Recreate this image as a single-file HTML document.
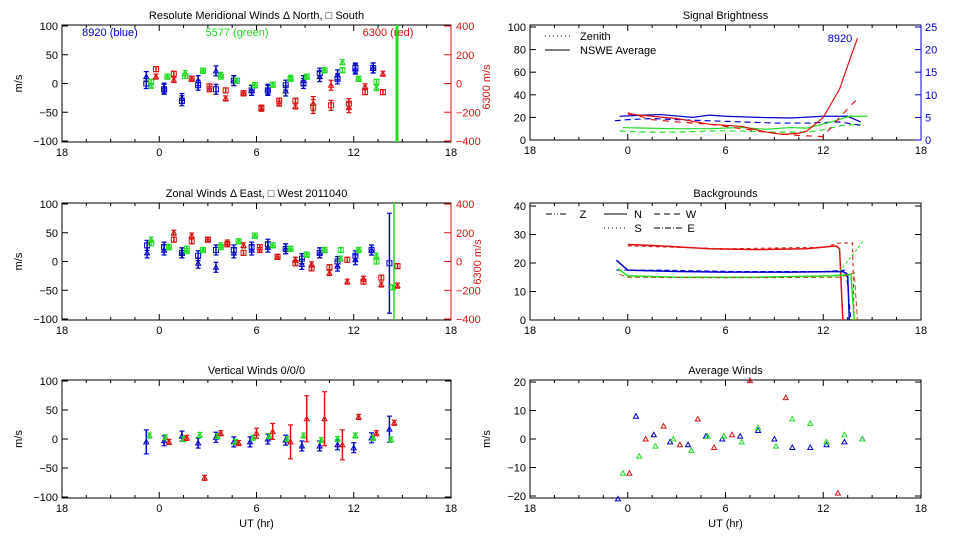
<!DOCTYPE html>
<html><head><meta charset="utf-8"><style>
html,body{margin:0;padding:0;background:#fff;width:960px;height:540px;overflow:hidden}
svg{display:block}
text{font-family:"Liberation Sans",sans-serif;font-size:11px}
</style></head><body>
<svg id="s" width="960" height="540" xmlns="http://www.w3.org/2000/svg"></svg>
<script>
const S=document.getElementById('s');let h='';
const B='#0000cc',G='#22dd22',R='#dd1111',K='#000';
function T(x,y,t,o){o=o||{};h+=`<text x="${x}" y="${y}" fill="${o.c||K}" text-anchor="${o.a||'middle'}" font-size="${o.s||11}"${o.r?` transform="rotate(-90 ${x} ${y})"`:''}>${t}</text>`;}
function L(x1,y1,x2,y2,c,w,d){h+=`<line x1="${x1}" y1="${y1}" x2="${x2}" y2="${y2}" stroke="${c||K}" stroke-width="${w||1}"${d?` stroke-dasharray="${d}"`:''}/>`;}
function P(pts,c,d,w){h+=`<polyline fill="none" stroke="${c}" stroke-width="${w||1}"${d?` stroke-dasharray="${d}"`:''} points="${pts.map(p=>p.join(',')).join(' ')}"/>`;}
function panel(x0,x1,y0,y1,ylab,xl,title,ul){
 h+=`<rect x="${x0}" y="${y0}" width="${x1-x0}" height="${y1-y0}" fill="none" stroke="#000"/>`;
 const X=v=>x0+(v+6)*(x1-x0)/24;
 [-6,0,6,12,18].forEach((v,i)=>{const x=X(v);L(x,y1,x,y1-6);L(x,y0,x,y0+6);T(x,y1+14,['18','0','6','12','18'][i]);});
 for(let v=-6;v<18;v+=1.5){if(v%6){const x=X(v);L(x,y1,x,y1-3);L(x,y0,x,y0+3);}}
 ylab.forEach(([val,yy])=>{L(x0,yy,x0+6,yy);if(!ul)L(x1,yy,x1-6,yy);T(x0-4,yy+4,val,{a:'end'});});
 T((x0+x1)/2,y0-6,title,{s:12.5});
 if(xl)T((x0+x1)/2,y1+29,'UT (hr)',{s:12});
 return X;
}
function tri(x,y,c,f){h+=`<polygon points="${x-2.5},${y+2} ${x+2.5},${y+2} ${x},${y-2.5}" fill="${f?c:'none'}" stroke="${c}" stroke-width="1"/>`;}
function sq(x,y,c){h+=`<rect x="${x-2.5}" y="${y-2.5}" width="5" height="5" fill="none" stroke="${c}" stroke-width="1"/>`;}
function eb(x,y,e,c,w){L(x,y-e,x,y+e,c,w||1.5);L(x-2.5,y-e,x+2.5,y-e,c,1.2);L(x-2.5,y+e,x+2.5,y+e,c,1.2);}
function leftPanel(y0,y1,title,xl,right){
 const ym=v=>y0+(100-v)*(y1-y0-2)/200+1;
 const X=panel(62,451,y0,y1,[[100,ym(100)],[50,ym(50)],[0,ym(0)],['−50',ym(-50)],['−100',ym(-100)]].map(a=>[a[0],a[1]]),xl,title,right);
 T(22,(y0+y1)/2,'m/s',{r:1,s:11});
 if(right){L(451,y0,451,y1,R);[[400,100],[200,50],[0,0],['−200',-50],['−400',-100]].forEach(([l,v])=>{L(451,ym(v),444,ym(v),R);T(456,ym(v)+4,l,{a:'start',c:R,s:right});});}
 return [X,ym];
}
function plotSeries(X,ym,data,c,big){data.forEach(d=>{const x=X(d[0]);for(let i=1;i<d.length;i++){const v=d[i];if(v==null)continue;const y=ym(v);const e=big&&big[d[0]]?big[d[0]]:(c==B?5:2.5);eb(x,y,e,c,1.5);if(i==1)tri(x,y,c);else sq(x,y,c);}});}
let [X,ym]=leftPanel(25,142,'Resolute Meridional Winds Δ North, □ South',0,11);
T(110,36,'8920 (blue)',{c:B,s:12});T(237,36,'5577 (green)',{c:G,s:12});T(388,36,'6300 (red)',{c:R,s:12});
plotSeries(X,ym,[[-0.8,12,0],[0.3,-8,-10],[1.4,-26,-30],[2.4,5,-3],[3.5,22,-10],[4.6,5,5],[5.7,-12,-12],[6.7,-10,-12],[7.8,-13,-3],[8.9,5,0],[9.9,12,18],[11,15,8],[12.1,25,27],[13.2,27,27]],B);
plotSeries(X,ym,[[-0.5,-4,3],[0.5,12,12],[1.6,18,13],[2.7,22,22],[3.8,15,12],[4.8,5,5],[5.9,-3,-3],[7,-2,-2],[8.1,10,8],[9.1,12,12],[10.2,23,23],[11.3,37,23],[12.3,8,8],[13.4,-8,3]],G);
plotSeries(X,ym,[[-0.2,12,25],[0.9,6,17],[2,8,8],[3.1,-10,-5],[4.1,-26,-12],[5.2,-17,-17],[6.3,-44,-42],[7.4,-35,-30],[8.4,-40,-30],[9.5,-35,-40],[10.6,-3,-38],[11.7,-42,-35],[12.7,-5,-15],[13.8,17,-15]],R,{9.5:7,10.6:5,11.7:5});
L(397,25,397,142,G,3);
T(490,87,'6300 m/s',{r:1,c:R,s:11});
[X,ym]=leftPanel(203,320,'Zonal Winds Δ East, □ West 2011040',0,9);
T(481,262,'6300 m/s',{r:1,c:R,s:9});
plotSeries(X,ym,[[-0.75,15,28],[0.3,20,25],[1.4,15,15],[2.4,-3,10],[3.5,-10,20],[4.6,15,20],[5.7,20,25],[6.7,25,30],[7.8,22,22],[8.8,-5,5],[9.9,15,15],[11,-8,0],[12.1,3,10],[13.1,20,20]],B);
eb(X(14.2),ym(-3),50,B);sq(X(14.2),ym(-3),B);
plotSeries(X,ym,[[-0.5,38,32],[0.6,25,25],[1.7,18,22],[2.7,20,20],[3.8,28,25],[4.9,35,35],[5.9,45,45],[7,28,28],[8.1,22,22],[9.1,12,12],[10.2,20,20],[11.2,5,20],[12.3,20,20],[13.4,10,0],[14.4,null,-45]],G);
plotSeries(X,ym,[[0.9,50,38],[2,45,35],[3,38,38],[4.2,33,30],[5.2,28,15],[6.2,20,25],[7.3,8,8],[8.4,3,-3],[9.4,-5,-12],[10.5,-20,-10],[11.6,-35,3],[12.6,-30,-35],[13.7,-40,-28],[14.7,-42,-8]],R);
L(394,203,394,320,G,1.5);
[X,ym]=leftPanel(380,498,'Vertical Winds 0/0/0',1,0);
plotSeries(X,ym,[[-0.8,-5],[0.3,-3],[1.4,5],[2.4,-7],[3.5,3],[4.6,-5],[5.6,-5],[6.7,0],[7.8,-2],[8.8,-12],[9.9,-12],[11,-10],[12,-15],[13.1,2],[14.2,17]],B,{'-0.8':12,14.2:13});
plotSeries(X,ym,[[-0.6,6],[0.4,3],[1.5,0],[2.5,7],[3.6,5],[4.7,-5],[5.8,2],[6.8,5],[7.9,0],[8.9,6],[10,-2],[11,0],[12.1,6],[13.2,2],[14.3,-1]],G);
plotSeries(X,ym,[[0.6,-5],[1.7,2],[2.8,-67],[3.8,10],[4.9,-7],[6,10],[7,13],[8.1,-5],[9.1,35],[10.2,35],[11.3,-10],[12.3,38],[13.4,10],[14.5,28]],R,{6:5,7:8,8.1:17,9.1:23,10.2:27,11.3:15});
let xr0=530,xr1=921;
let by=v=>140-v*1.13;
let XR=panel(xr0,xr1,25,140,[[100,by(100)],[80,by(80)],[60,by(60)],[40,by(40)],[20,by(20)],[0,by(0)]],0,'Signal Brightness',1);
L(xr1,25,xr1,140,B);[[25,100],[20,80],[15,60],[10,40],[5,20],[0,0]].forEach(([l,v])=>{L(xr1,by(v),xr1-6,by(v),B);T(925,by(v)+4,l,{a:'start',c:B});});
L(545,36,570,36,K,1,'1,3');T(580,40,'Zenith',{a:'start',s:10});L(545,50,570,50);T(580,54,'NSWE Average',{a:'start',s:10});
T(840,42,'8920',{c:B,s:16});
const pr=(arr,yf)=>arr.map(([a,b])=>[XR(a),yf(b)]);
P(pr([[-0.5,21],[1,22],[2,22.5],[4,20],[5,22],[6,21],[8,20],[10,19.5],[12,21],[13.5,21],[14.3,16]],by),B,0,1.2);
P(pr([[-0.8,17],[0,18],[1.5,19],[3,18],[5,17],[7,16],[9,15],[11,15],[13,16],[14.3,13]],by),B,'6,4',1.2);
P(pr([[-0.3,11],[1,10.5],[3,10],[5,10],[7,11],[8.5,9.5],[10,11],[11,10.5],[12.5,16],[13.6,21],[14.7,21]],by),G,0,1.2);
P(pr([[-0.5,8],[1,7],[3,7],[5,8],[7,8],[9,7],[11,7],[12,9],[13.2,13],[14.3,14]],by),G,'6,4',1.2);
P(pr([[0,23],[1.5,21],[3,19],[5,14],[7,12],[8.5,7],[9.5,5],[10.5,6],[11,8],[12,20],[13,45],[13.6,70],[14.1,90]],by),R,0,1.2);
P(pr([[0,24],[1.5,18],[3,16],[5,14],[7,10],[9,6],[10.5,4],[12,3],[13,20],[14,35]],by),R,'6,6',1.2);
let gy=v=>320-v*2.85;
XR=panel(xr0,xr1,203,320,[[40,gy(40)],[30,gy(30)],[20,gy(20)],[10,gy(10)],[0,gy(0)]],0,'Backgrounds',0);
L(546,214,567,214,K,1,'6,2,1,2,1,2');T(583,218,'Z',{s:10});L(604,214,627,214);T(638,218,'N',{s:10});L(654,214,682,214,K,1,'6,4');T(691,218,'W',{s:10});
L(604,228,627,228,K,1,'1,3');T(638,232,'S',{s:10});L(654,228,682,228,K,1,'6,2,1,2');T(691,232,'E',{s:10});
P(pr([[0,26.5],[2,26],[5,25],[8,24.7],[11,25],[12.8,26],[13,25],[13.2,0]],gy),R,0,1.5);
P(pr([[0,26],[6,25],[12,25.5],[13,27],[13.8,27],[13.9,0]],gy),R,'4,3');
P(pr([[-0.7,21],[-0.2,18.5],[0,17.5],[3,17],[6,16.8],[10,16.8],[13.2,17],[13.5,16],[13.6,0]],gy),B,0,1.5);
P(pr([[-0.7,17.5],[2,17.5],[7,17],[12,17],[13.4,17.5],[13.7,0]],gy),B,'5,3');
P(pr([[-0.6,18],[0,15.5],[3,15],[8,15],[12.5,15.5],[13.7,16],[13.9,0]],gy),G,0,1.5);
P(pr([[-0.5,16],[0,15],[6,14.8],[13,15],[13.9,16.5],[14.1,0]],gy),'#aa5511','5,3');
P(pr([[13,17],[14.5,28]],gy),G,'3,2');
let ay=v=>439-v*2.85;
XR=panel(xr0,xr1,380,498,[[20,ay(20)],[10,ay(10)],[0,ay(0)],['−10',ay(-10)],['−20',ay(-20)]],1,'Average Winds',0);
T(490,439,'m/s',{r:1});
[[-0.6,-21],[0.5,8],[1.6,1.5],[2.6,-1],[3.7,-2],[4.8,1],[5.8,0],[6.9,1],[8,3],[9,0],[10.1,-3],[11.2,-3],[12.2,-2],[13.3,-1],[14.4,0]].forEach(([a,b])=>tri(XR(a),ay(b),B));
[[-0.3,-12],[0.7,-6],[1.7,-2.5],[2.8,0],[3.9,-4],[4.9,1],[5.9,1],[7,-1],[8,4],[9.1,-2.5],[10.1,7],[11.2,5.5],[12.2,-1],[13.3,1.5],[14.4,0]].forEach(([a,b])=>tri(XR(a),ay(b),G));
[[0.1,-12],[1.1,0],[2.2,4.5],[3.2,-2],[4.3,7],[5.3,-3],[6.4,1.5],[7.5,20.5],[9.7,14.5],[12.9,-19]].forEach(([a,b])=>tri(XR(a),ay(b),R));
S.innerHTML=h;
</script>
</body></html>
